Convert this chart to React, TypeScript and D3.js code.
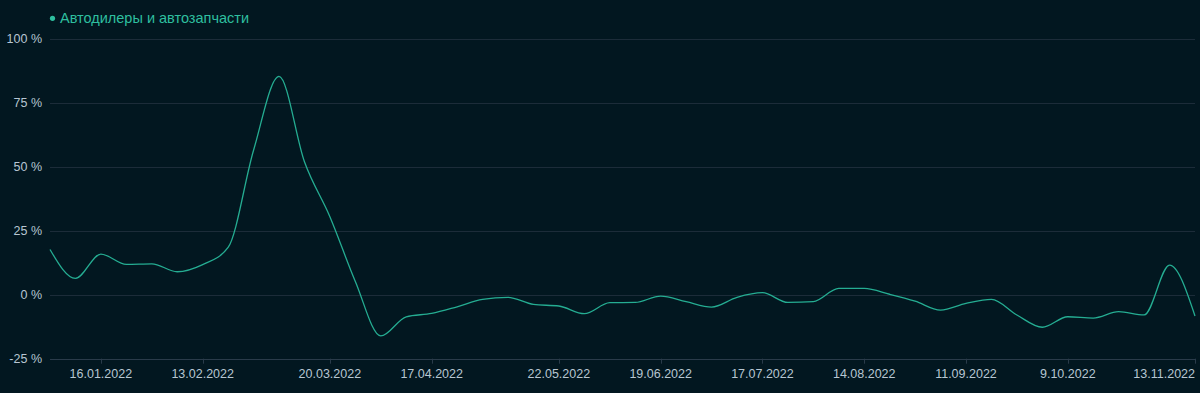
import React from "react";
import * as d3 from "d3";

const WIDTH = 1200;
const HEIGHT = 393;

const seriesName = "Автодилеры и автозапчасти";
const startDate = "2022-01-02";
const endDate = "2022-11-13";

// weekly values (%), one per Sunday starting 02.01.2022
const values: number[] = [
  17.7, 6.4, 15.9, 11.9, 12.1, 9.0, 11.8, 18.5, 56.5, 85.4,
  52.0, 30.5, 5.2, -16.1, -8.6, -7.3, -4.7, -1.8, -1.0, -3.8,
  -4.4, -7.4, -3.1, -3.0, -0.5, -2.7, -4.8, -1.0, 0.8, -3.0,
  -2.7, 2.5, 2.5, 0.2, -2.5, -6.0, -3.4, -1.8, -7.9, -12.7,
  -8.6, -9.1, -6.6, -7.9, 11.6, -8.3,
];

const yTicks: number[] = [-25, 0, 25, 50, 75, 100];
const xTickDates: string[] = [
  "2022-01-16", "2022-02-13", "2022-03-20", "2022-04-17", "2022-05-22",
  "2022-06-19", "2022-07-17", "2022-08-14", "2022-09-11", "2022-10-09",
  "2022-11-13",
];

const parse = d3.timeParse("%Y-%m-%d");
const fmt = d3.timeFormat("%-d.%m.%Y");

const C = {
  bg: "#021720",
  grid: "#1c2c39",
  axis: "#2a3b4a",
  text: "#b7c6d2",
  line: "#25ad92",
  legend: "#2ebf9f",
};

export default function App() {
  const start = parse(startDate)!;
  const end = parse(endDate)!;
  const data = values.map((v, i) => ({ date: d3.timeDay.offset(start, i * 7), v }));

  const x = d3.scaleTime().domain([start, end]).range([50, 1195]);
  const y = d3.scaleLinear().domain([-25, 100]).range([358.7, 39]);

  const line = d3
    .line<{ date: Date; v: number }>()
    .x((d) => x(d.date))
    .y((d) => y(d.v))
    .curve(d3.curveMonotoneX);

  const font = "'Liberation Sans', Arial, sans-serif";

  return (
    <svg
      width={WIDTH}
      height={HEIGHT}
      style={{ position: "absolute", left: 0, top: 0, display: "block", background: C.bg }}
      fontFamily={font}
    >
      <rect x={0} y={0} width={WIDTH} height={HEIGHT} fill={C.bg} />
      {yTicks.map((t) => (
        <g key={t}>
          <line
            x1={x.range()[0]}
            x2={x.range()[1]}
            y1={Math.round(y(t)) + 0.5}
            y2={Math.round(y(t)) + 0.5}
            stroke={t === -25 ? C.axis : C.grid}
            strokeWidth={1}
          />
          <text x={42} y={y(t)} dy="0.35em" textAnchor="end" fontSize={12.5} fill={C.text}>
            {`${t} %`}
          </text>
        </g>
      ))}
      {xTickDates.map((s, i) => {
        const d = parse(s)!;
        const px = Math.round(x(d)) + 0.5;
        const last = i === xTickDates.length - 1;
        return (
          <g key={s}>
            <line x1={px} x2={px} y1={y(-25)} y2={y(-25) + 5} stroke={C.axis} strokeWidth={1} />
            <text
              x={last ? x.range()[1] : x(d)}
              y={377.5}
              textAnchor={last ? "end" : "middle"}
              fontSize={12.5}
              fill={C.text}
            >
              {fmt(d)}
            </text>
          </g>
        );
      })}
      <path d={line(data) || ""} fill="none" stroke={C.line} strokeWidth={1.3} />
      <circle cx={52.5} cy={18.3} r={2.6} fill={C.legend} />
      <text x={60} y={18.3} dy="0.35em" fontSize={14.5} fill={C.legend}>
        {seriesName}
      </text>
    </svg>
  );
}
